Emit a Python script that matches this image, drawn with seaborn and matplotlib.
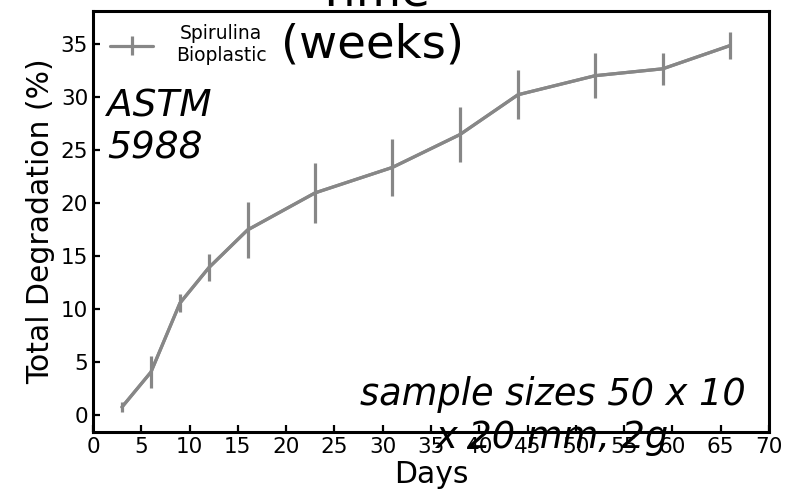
import numpy as np
import pandas as pd
import matplotlib
matplotlib.use("Agg")
import matplotlib.pyplot as plt
import seaborn as sns

days = [3, 6, 9, 12, 16, 23, 31, 38, 44, 52, 59, 66]
degradation = [0.75, 4.05, 10.55, 13.9, 17.45, 20.95, 23.35, 26.45, 30.2, 32.0, 32.65, 34.85]
errors = [0.5, 1.5, 0.85, 1.3, 2.6, 2.8, 2.7, 2.6, 2.3, 2.1, 1.5, 1.3]
series_label = "Spirulina\nBioplastic"
xticks = list(range(0, 75, 5))
yticks = list(range(0, 40, 5))

sns.set_theme(style="ticks")
plt.rcParams['font.family'] = ['DejaVu Sans']
plt.rcParams['text.color'] = 'black'
plt.rcParams['axes.labelcolor'] = 'black'

df = pd.DataFrame({"Days": days, "Degradation": degradation, "err": errors})

fig = plt.figure(figsize=(7.92, 4.91), dpi=100)
ax = fig.add_axes([93/792, (491-432)/491, 676/792, 421/491])

color = "#878787"
sns.lineplot(data=df, x="Days", y="Degradation", ax=ax, color=color, lw=2.3, legend=False)
ax.errorbar(df["Days"], df["Degradation"], yerr=df["err"], fmt='-', color=color,
            lw=2.3, elinewidth=2.3, capsize=0, label=series_label)

ax.set_xlim(0, 70)
ax.set_ylim(-1.6, 38.1)
ax.set_xticks(xticks)
ax.set_yticks(yticks)
ax.tick_params(direction='in', length=5, width=1.6, labelsize=15.5, colors='black',
               top=False, right=False)
for s in ax.spines.values():
    s.set_linewidth(2.2)
    s.set_color('black')
    s.set_visible(True)

ax.set_xlabel("Days", fontsize=21.5, labelpad=2, color='black')
ax.set_ylabel("Total Degradation (%)", fontsize=21.5, labelpad=4, color='black')

leg = ax.legend(loc='upper left', frameon=False, fontsize=13.5, handlelength=2.3,
                borderaxespad=0.3, handletextpad=1.2, bbox_to_anchor=(0.006, 1.0))
for t in leg.get_texts():
    t.set_multialignment('center')
    t.set_color('black')

ax.text(0.414, 0.866, "Time\n(weeks)", transform=ax.transAxes, ha='center', va='bottom',
        fontsize=33.5, color='black')
ax.text(0.021, 0.815, "ASTM\n5988", transform=ax.transAxes, ha='left', va='top',
        fontsize=27, style='italic', color='black')
ax.text(0.68, -0.038, "sample sizes 50 x 10\nx 20 mm, 2g", transform=ax.transAxes,
        ha='center', va='baseline', fontsize=26.5, style='italic', multialignment='center',
        color='black')

fig.savefig("out.png", dpi=100)
